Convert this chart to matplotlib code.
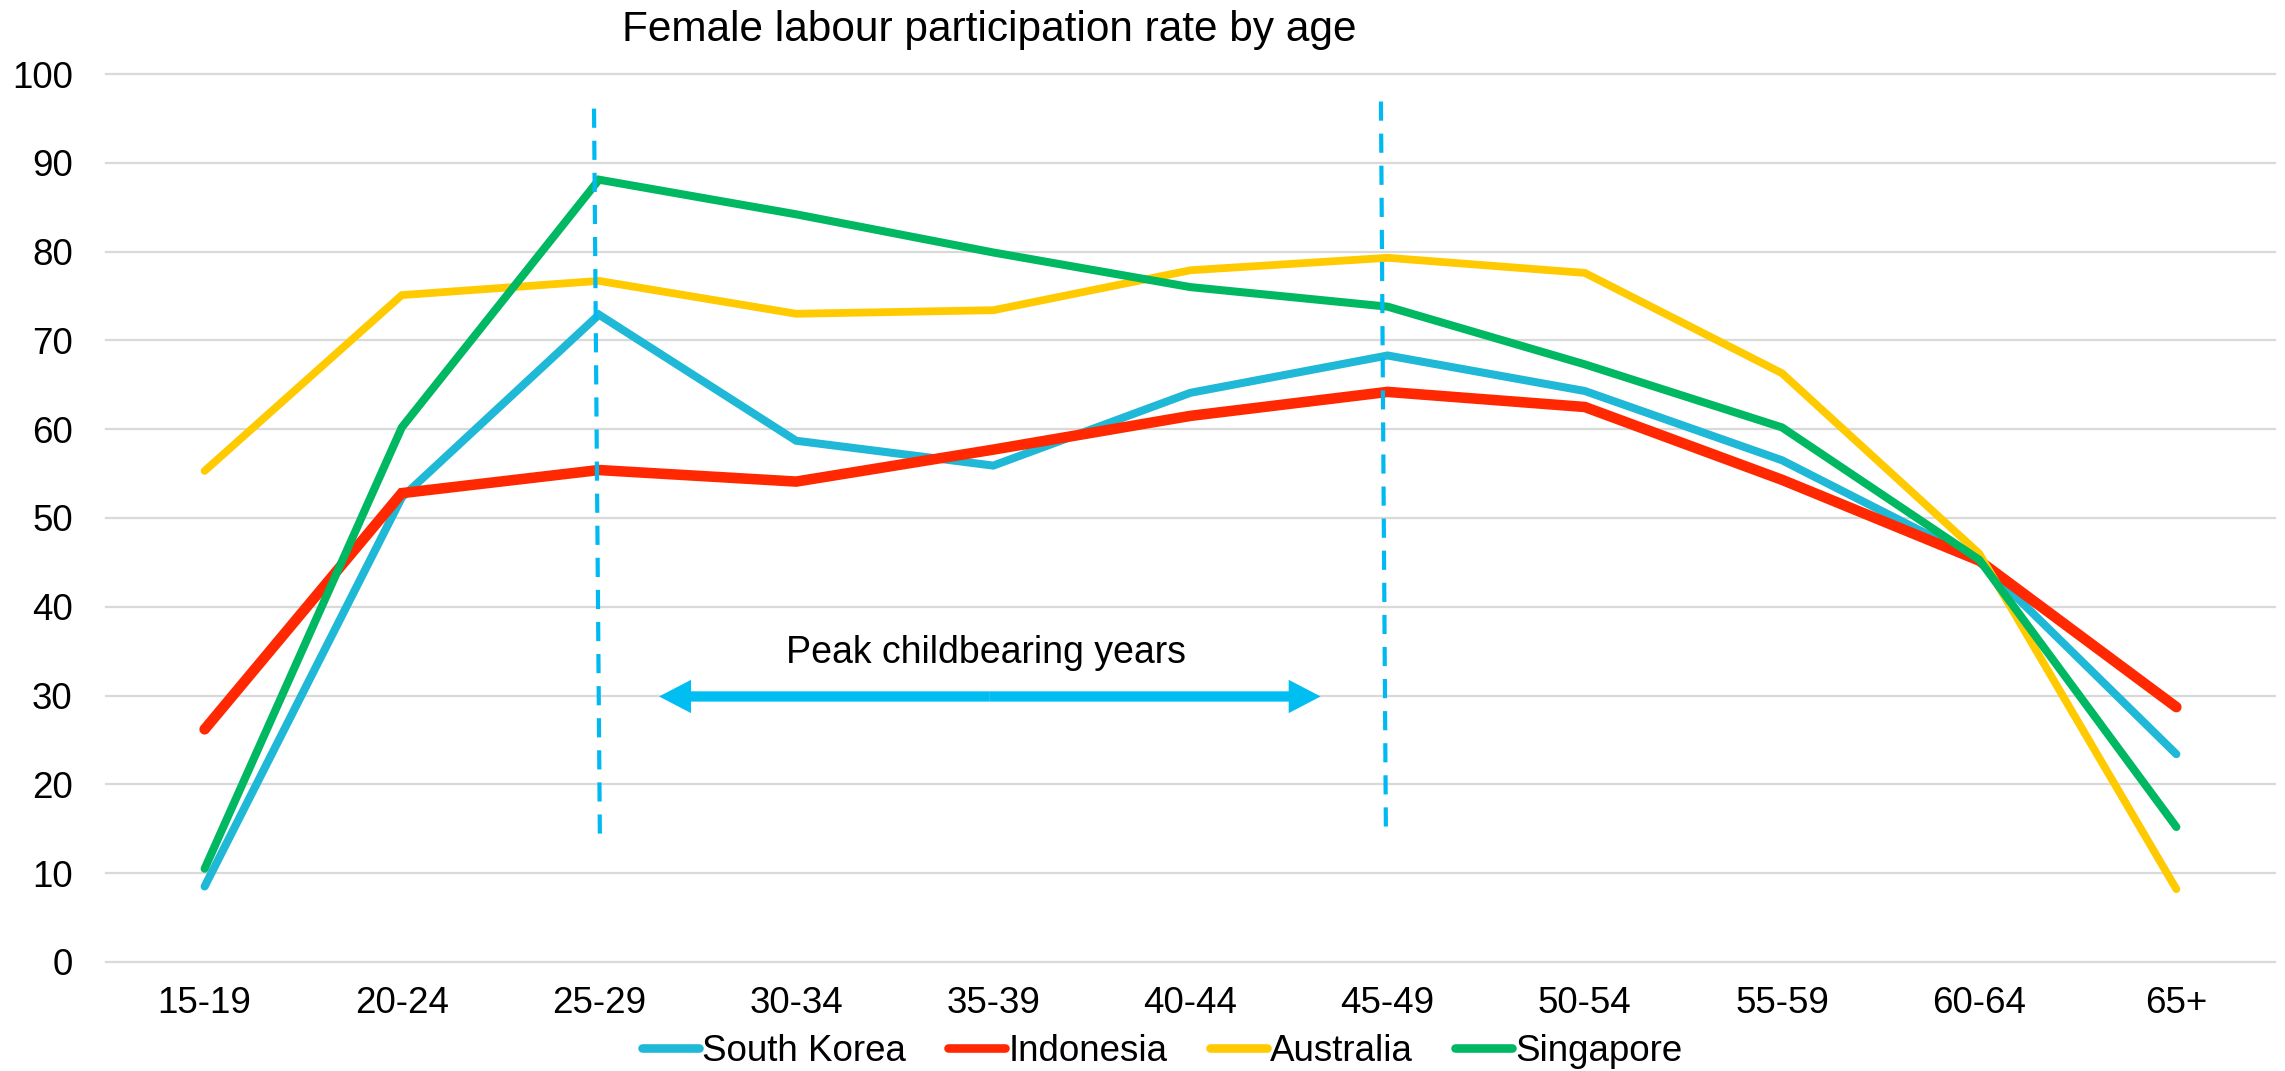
import matplotlib.pyplot as plt
from matplotlib.patches import FancyArrowPatch

plt.rcParams['font.family'] = ['Liberation Sans', 'DejaVu Sans']

age_groups = ["15-19", "20-24", "25-29", "30-34", "35-39", "40-44",
              "45-49", "50-54", "55-59", "60-64", "65+"]

south_korea = [8.5, 52.3, 72.9, 58.7, 55.9, 64.1, 68.3, 64.3, 56.5, 45.2, 23.4]
indonesia = [26.2, 52.8, 55.4, 54.1, 57.7, 61.5, 64.2, 62.5, 54.3, 45.2, 28.7]
australia = [55.3, 75.1, 76.7, 73.0, 73.4, 77.9, 79.3, 77.6, 66.3, 46.0, 8.2]
singapore = [10.5, 60.2, 88.1, 84.2, 79.9, 76.0, 73.8, 67.3, 60.2, 45.3, 15.2]

series = [
    ("South Korea", south_korea, "#1FB8D6", 5.8),
    ("Indonesia", indonesia, "#FF2800", 7.6),
    ("Australia", australia, "#FFCA00", 5.6),
    ("Singapore", singapore, "#00B862", 5.8),
]

fig = plt.figure(figsize=(22.85, 10.71), dpi=100)
ax = fig.add_axes([0.0464, 0.1018, 0.9492, 0.8291])

x = list(range(len(age_groups)))
for name, vals, col, lw in series:
    ax.plot(x, vals, color=col, lw=lw, label=name,
            solid_capstyle='round', solid_joinstyle='miter')

# dashed markers for the peak childbearing window
marker_color = "#00B9F0"
ax.plot([1.975, 2.005], [96.1, 13.1], color=marker_color, lw=3,
        dashes=(4.6, 3.1), zorder=5)
ax.plot([5.966, 5.991], [96.9, 14.9], color=marker_color, lw=3,
        dashes=(4.6, 3.1), zorder=5)

# double headed arrow, drawn as two filled halves from the middle
mid = (2.305 + 5.66) / 2
for tip in (2.305, 5.66):
    ax.add_patch(FancyArrowPatch((mid, 29.9), (tip, 29.9),
                                 arrowstyle="simple,head_length=23,head_width=24,tail_width=7.4",
                                 mutation_scale=1, lw=0, color="#00BEF2",
                                 shrinkA=0, shrinkB=0, zorder=6))
ax.text(3.963, 33.7, "Peak childbearing years", ha='center', va='baseline',
        fontsize=27)

ax.set_xlim(-0.5, 10.5)
ax.set_ylim(0, 100)
ax.set_yticks(range(0, 101, 10))
ax.set_xticks(x, age_groups)
ax.tick_params(length=0, labelsize=26.5)
ax.tick_params(axis='y', pad=24)
ax.tick_params(axis='x', pad=17)
for s in ax.spines.values():
    s.set_visible(False)
ax.yaxis.grid(True, color='#D9D9D9', lw=1.6)
for gl in ax.get_ygridlines():
    gl.set_clip_on(False)
ax.set_axisbelow(True)

fig.text(0.2722, 0.9617, "Female labour participation rate by age",
         ha='left', va='baseline', fontsize=30.5)

leg = fig.legend(loc='center', bbox_to_anchor=(0.5086, 0.018), ncol=4,
                 frameon=False, fontsize=26.5, handlelength=1.55,
                 handletextpad=0.08, columnspacing=1.15,
                 borderpad=0, borderaxespad=0)
for line in leg.get_lines():
    line.set_linewidth(6.2)
    line.set_solid_capstyle('round')

fig.savefig("out.png", dpi=100)
